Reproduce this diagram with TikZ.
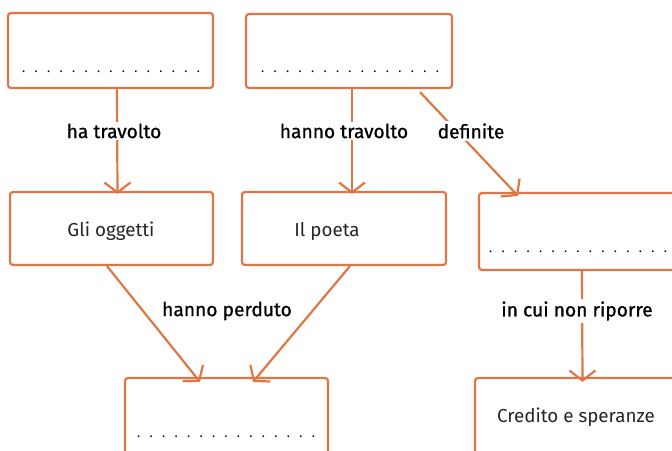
\documentclass[tikz,border=0pt]{standalone}
\usepackage{fontspec}
\setmainfont{Fira Sans}
\newfontfamily\labfont{Fira Sans}[FakeBold=0.8]
\usetikzlibrary{arrows.meta}
\definecolor{sketch}{RGB}{222,118,70}
\newcommand\mydotfont{\fontsize{13}{16}\selectfont\setlength{\spaceskip}{8.2pt}}
\tikzset{
  box/.style={draw=sketch, line width=2.2pt, rounded corners=3pt, fill=white, inner sep=0pt},
  conn/.style={draw=sketch, line width=2.2pt, -{Straight Barb[length=10pt,width=26pt,line width=2.2pt]}},
  lab/.style={fill=white, inner sep=2pt, font=\labfont\fontsize{19.2}{21}\selectfont, text=black},
  txt/.style={font=\fontsize{18.8}{21}\selectfont, text=black!85},
  dots/.style={font=\mydotfont, text=black, inner sep=0pt}
}
\begin{document}
\begin{tikzpicture}[x=1pt,y=-1pt]
\useasboundingbox (0,0) rectangle (672,450);
\clip (0,0) rectangle (672,450);
% boxes
\node[box, minimum width=205pt, minimum height=75pt] (A) at (110.5,50.5) {};
\node[box, minimum width=206pt, minimum height=74pt] (B) at (349,51) {};
\node[box, minimum width=203pt, minimum height=73pt] (C) at (111.5,228.5) {};
\node[box, minimum width=204pt, minimum height=73pt] (D) at (344,228.5) {};
\node[box, minimum width=211pt, minimum height=77pt] (E) at (584.5,231.5) {};
\node[box, minimum width=203pt, minimum height=92pt] (F) at (226.5,424) {};
\node[box, minimum width=215pt, minimum height=92pt] (G) at (582.5,424) {};
% texts
\node[dots, anchor=base west] (dA) at (22,72) {. . . . . . . . . . . . . . .};
\node[dots, anchor=base west] (dB) at (261,72) {. . . . . . . . . . . . . . .};
\node[dots, anchor=base west] (dE) at (489,252) {. . . . . . . . . . . . . . .};
\node[dots, anchor=base west] (dF) at (137,437) {. . . . . . . . . . . . . . .};
\node[txt] (tC) at (111,231) {Gli oggetti};
\node[txt] (tD) at (327,231) {Il poeta};
\node[txt] (tG) at (576,417) {Credito e speranze};
% connectors
\draw[conn] ([xshift=6.5pt]A.south) -- ([xshift=6pt,yshift=-3pt]C.north);
\draw[conn] ([xshift=3pt]B.south) -- ([xshift=8pt,yshift=-3pt]D.north);
\draw[conn] ([xshift=71pt,yshift=-3pt]B.south) -- ([xshift=-66.5pt,yshift=-4pt]E.north);
\draw[conn] ([xshift=-4.5pt]C.south) -- ([xshift=-26.5pt,yshift=-5pt]F.north);
\draw[conn] ([xshift=6pt]D.south) -- ([xshift=26.5pt,yshift=-5pt]F.north);
\draw[conn] ([xshift=-2.5pt]E.south) -- ([yshift=-5pt]G.north);
% labels
\node[lab] (l1) at (114,131) {ha travolto};
\node[lab] (l2) at (344,131) {hanno travolto};
\node[lab] (l3) at (471,131) {definite};
\node[lab] (l4) at (227,311) {hanno perduto};
\node[lab] (l5) at (577,311) {in cui non riporre};
\end{tikzpicture}
\end{document}
